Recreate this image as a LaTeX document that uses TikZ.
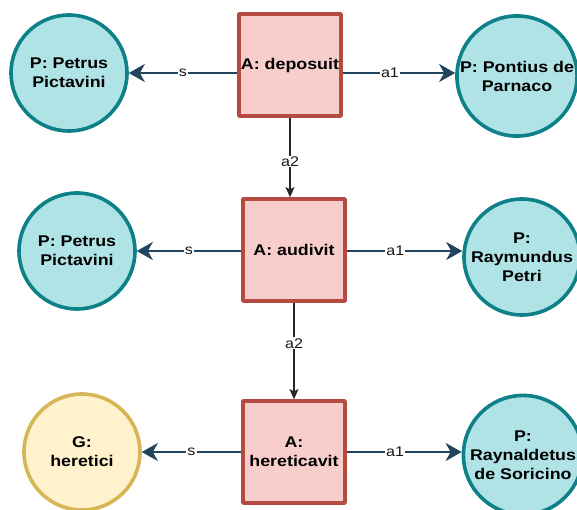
\documentclass[tikz,border=0pt]{standalone}
\usepackage{fontspec}
\setmainfont[FakeStretch=1.15]{Liberation Sans}
\usetikzlibrary{arrows.meta,positioning,calc}
\definecolor{actfill}{HTML}{F8CECC}
\definecolor{actline}{HTML}{B54A40}
\definecolor{persfill}{HTML}{B0E3E6}
\definecolor{persline}{HTML}{0E8088}
\definecolor{grpfill}{HTML}{FFF2CC}
\definecolor{grpline}{HTML}{D6B656}
\definecolor{relline}{HTML}{23445D}
\tikzset{
  act/.style={rectangle, draw=actline, fill=actfill, line width=3.6pt,
    minimum size=102pt, inner sep=1pt, align=center,
    font=\bfseries\fontsize{15.5}{19}\selectfont},
  pers/.style={circle, draw=persline, fill=persfill, line width=3.6pt,
    minimum size=116pt, inner sep=1pt, align=center,
    font=\bfseries\fontsize{15.5}{19}\selectfont},
  grp/.style={pers, draw=grpline, fill=grpfill},
  rel/.style={draw=relline, line width=2.6pt,
    -{Stealth[length=16pt, width=18pt, inset=5pt]}},
  seq/.style={draw=black!85, line width=1.3pt,
    -{Stealth[length=10pt, width=9pt, inset=2pt]}},
  lbl/.style={fill=white, inner sep=1pt, text=black!90,
    font=\fontsize{14}{14}\selectfont}
}
\begin{document}
\begin{tikzpicture}[x=1pt, y=-1pt, line join=round]
\useasboundingbox (0,0) rectangle (577,510);
\node[act]  (dep)  at (290,65)  {A: deposuit};
\node[pers] (pet1) at (69,73)   {P: Petrus\\Pictavini};
\node[pers] (pon)  at (517,76)  {P: Pontius de\\Parnaco};
\node[act]  (aud)  at (294,250) {A: audivit};
\node[pers] (pet2) at (77,251)  {P: Petrus\\Pictavini};
\node[pers] (ray)  at (522,257) {P:\\Raymundus\\Petri};
\node[act]  (her)  at (294,452) {A:\\hereticavit};
\node[grp]  (hrt)  at (82,452)  {G:\\heretici};
\node[pers] (ryn)  at (523,455) {P:\\Raynaldetus\\de Soricino};
\draw[rel] (dep.west |- pet1) -- node[lbl] {s} (pet1);
\draw[rel] (dep.east |- pet1) -- node[lbl, pos=0.42] {a1} (pon.west |- pet1);
\draw[seq] (dep.south) -- node[lbl, pos=0.55] {a2} (dep.south |- aud.north);
\draw[rel] (aud.west |- pet2) -- node[lbl] {s} (pet2);
\draw[rel] (aud.east |- pet2) -- node[lbl, pos=0.42] {a1} (ray.west |- pet2);
\draw[seq] (aud.south) -- node[lbl, pos=0.42] {a2} (her.north);
\draw[rel] (her.west) -- node[lbl] {s} (hrt);
\draw[rel] (her.east) -- node[lbl, pos=0.42] {a1} (her.east -| ryn.west);
\end{tikzpicture}
\end{document}
